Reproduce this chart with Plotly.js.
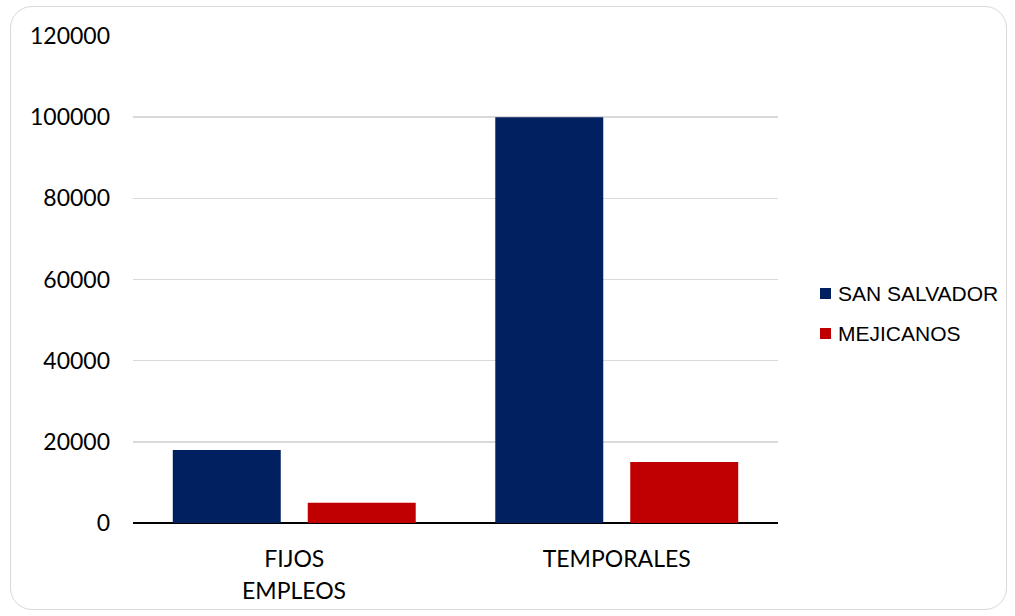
<!DOCTYPE html>
<html><head><meta charset="utf-8">
<script src="https://cdn.plot.ly/plotly-3.0.1.min.js"></script>
<style>
html,body{margin:0;padding:0;background:#fff;}
#wrap{position:relative;width:1015px;height:616px;}
#chart{position:absolute;left:0;top:0;width:1015px;height:616px;}
#frame{position:absolute;left:10px;top:6px;width:997px;height:604px;border:1.5px solid #d9d9d9;border-radius:22px;pointer-events:none;box-sizing:border-box;}
</style></head>
<body><div id="wrap"><div id="chart"></div><div id="frame"></div></div>
<script>
const categories = ["FIJOS", "TEMPORALES"];
const axisSubLabel = "EMPLEOS";
const seriesNames = ["SAN SALVADOR", "MEJICANOS"];
const seriesColors = ['#002060', '#c00000'];
const sanSalvador = [18000, 100000];
const mejicanos = [5000, 15000];
const yTicks = [0, 20000, 40000, 60000, 80000, 100000, 120000];

const W = 1015, H = 616;
const M = {l:133, r:237, t:36, b:93};
const pw = W - M.l - M.r, ph = H - M.t - M.b;
const px = v => (v - M.l) / pw;
const py = v => (H - M.b - v) / ph;

const traces = [
  {type:'bar', name:seriesNames[0], x:categories, y:sanSalvador, marker:{color:seriesColors[0]}},
  {type:'bar', name:seriesNames[1], x:categories, y:mejicanos, marker:{color:seriesColors[1]}}
];

const shapes = [], annotations = [];
seriesNames.forEach((n, i) => {
  const cy = 293.5 + i * 40;
  shapes.push({type:'rect', xref:'paper', yref:'paper', x0:px(820), x1:px(831), y0:py(cy - 5.5), y1:py(cy + 5.5),
               fillcolor:seriesColors[i], line:{width:0}});
  annotations.push({xref:'paper', yref:'paper', x:px(836), y:py(cy), xanchor:'left', yanchor:'middle', showarrow:false,
                    text:n, font:{size:21, family:'"Liberation Sans", Arial, sans-serif', color:'#000'}});
});
annotations.push({xref:'x', yref:'paper', x:categories[0], y:py(590), xanchor:'center', yanchor:'middle', showarrow:false,
                  text:axisSubLabel, font:{size:23, family:'Lato, "Open Sans", sans-serif', color:'#000'}});

const layout = {
  width:W, height:H,
  margin:M,
  paper_bgcolor:'rgba(0,0,0,0)', plot_bgcolor:'#fff',
  barmode:'group', bargap:0.163, bargroupgap:0.2,
  font:{family:'Lato, "Open Sans", sans-serif', color:'#000'},
  xaxis:{showgrid:false, tickfont:{size:23, family:'Lato, "Open Sans", sans-serif'}, ticks:'', showline:false, zeroline:false, ticklabelstandoff:20},
  yaxis:{range:[0,120000], tickvals:yTicks, ticktext:yTicks.map(String), showgrid:true, gridcolor:'#d9d9d9', gridwidth:1.5,
         zeroline:true, zerolinecolor:'#000', zerolinewidth:1.5, tickfont:{size:23, family:'Lato, "Open Sans", sans-serif'}, ticklabelstandoff:22, ticks:''},
  shapes:shapes, annotations:annotations,
  showlegend:false
};
Plotly.newPlot('chart', traces, layout, {displayModeBar:false, staticPlot:true});
</script></body></html>
